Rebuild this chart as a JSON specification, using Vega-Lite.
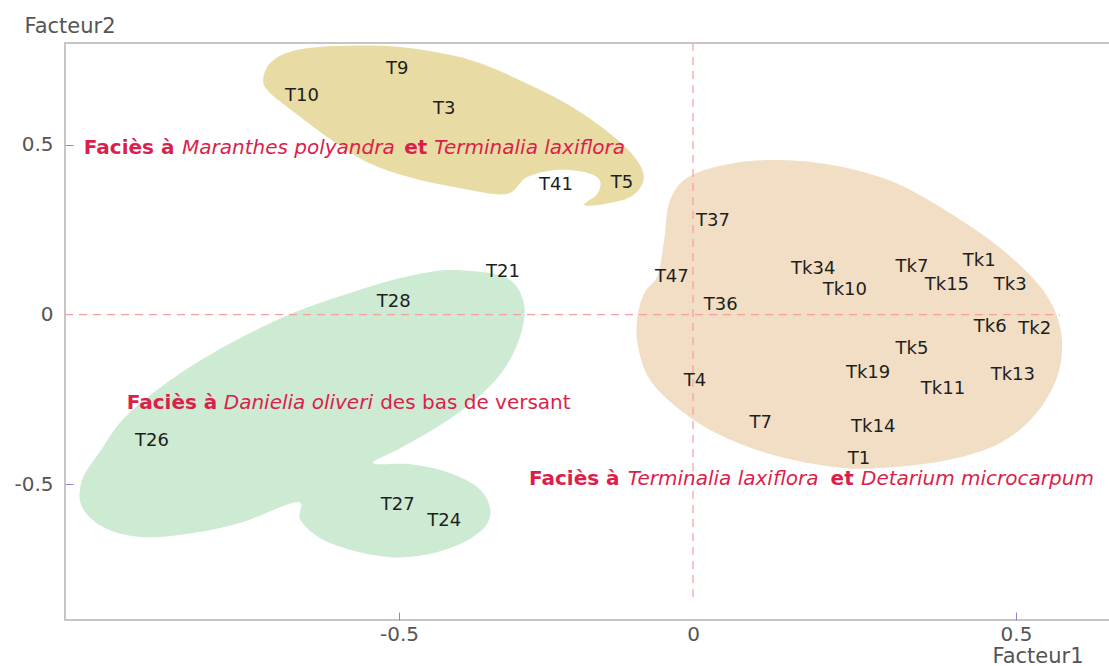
{
  "$schema": "https://vega.github.io/schema/vega-lite/v6.json",
  "width": 1046,
  "height": 577,
  "autosize": "none",
  "padding": {"left": 65, "top": 43, "right": 0, "bottom": 46},
  "background": "white",
  "config": {"view": {"stroke": "#c6c6c6", "strokeWidth": 2}, "font": "DejaVu Sans"},
  "datasets": {
    "points": [
      {"label": "T9", "f1": -0.503, "f2": 0.723},
      {"label": "T10", "f1": -0.665, "f2": 0.644},
      {"label": "T3", "f1": -0.423, "f2": 0.605},
      {"label": "T41", "f1": -0.233, "f2": 0.382},
      {"label": "T5", "f1": -0.121, "f2": 0.388},
      {"label": "T21", "f1": -0.323, "f2": 0.125},
      {"label": "T28", "f1": -0.509, "f2": 0.037},
      {"label": "T26", "f1": -0.920, "f2": -0.373},
      {"label": "T27", "f1": -0.502, "f2": -0.561},
      {"label": "T24", "f1": -0.423, "f2": -0.608},
      {"label": "T37", "f1": 0.031, "f2": 0.275},
      {"label": "T47", "f1": -0.036, "f2": 0.110},
      {"label": "T36", "f1": 0.043, "f2": 0.028},
      {"label": "T4", "f1": 0.003, "f2": -0.196},
      {"label": "T7", "f1": 0.105, "f2": -0.320},
      {"label": "T1", "f1": 0.257, "f2": -0.426},
      {"label": "Tk34", "f1": 0.186, "f2": 0.134},
      {"label": "Tk10", "f1": 0.235, "f2": 0.072},
      {"label": "Tk7", "f1": 0.339, "f2": 0.140},
      {"label": "Tk1", "f1": 0.443, "f2": 0.158},
      {"label": "Tk15", "f1": 0.393, "f2": 0.087},
      {"label": "Tk3", "f1": 0.491, "f2": 0.087},
      {"label": "Tk6", "f1": 0.460, "f2": -0.037},
      {"label": "Tk2", "f1": 0.529, "f2": -0.043},
      {"label": "Tk5", "f1": 0.339, "f2": -0.102},
      {"label": "Tk19", "f1": 0.271, "f2": -0.172},
      {"label": "Tk11", "f1": 0.387, "f2": -0.219},
      {"label": "Tk13", "f1": 0.495, "f2": -0.178},
      {"label": "Tk14", "f1": 0.279, "f2": -0.331}
    ],
    "blobs": [
      {"grp": "A", "i": 1, "f1": -0.731, "f2": 0.691},
      {"grp": "A", "i": 2, "f1": -0.719, "f2": 0.741},
      {"grp": "A", "i": 3, "f1": -0.682, "f2": 0.776},
      {"grp": "A", "i": 4, "f1": -0.609, "f2": 0.791},
      {"grp": "A", "i": 5, "f1": -0.498, "f2": 0.788},
      {"grp": "A", "i": 6, "f1": -0.379, "f2": 0.750},
      {"grp": "A", "i": 7, "f1": -0.277, "f2": 0.676},
      {"grp": "A", "i": 8, "f1": -0.192, "f2": 0.597},
      {"grp": "A", "i": 9, "f1": -0.124, "f2": 0.508},
      {"grp": "A", "i": 10, "f1": -0.090, "f2": 0.440},
      {"grp": "A", "i": 11, "f1": -0.085, "f2": 0.390},
      {"grp": "A", "i": 12, "f1": -0.107, "f2": 0.346},
      {"grp": "A", "i": 13, "f1": -0.150, "f2": 0.326},
      {"grp": "A", "i": 14, "f1": -0.185, "f2": 0.323},
      {"grp": "A", "i": 15, "f1": -0.163, "f2": 0.355},
      {"grp": "A", "i": 16, "f1": -0.158, "f2": 0.393},
      {"grp": "A", "i": 17, "f1": -0.179, "f2": 0.417},
      {"grp": "A", "i": 18, "f1": -0.231, "f2": 0.426},
      {"grp": "A", "i": 19, "f1": -0.282, "f2": 0.405},
      {"grp": "A", "i": 20, "f1": -0.318, "f2": 0.355},
      {"grp": "A", "i": 21, "f1": -0.398, "f2": 0.373},
      {"grp": "A", "i": 22, "f1": -0.477, "f2": 0.402},
      {"grp": "A", "i": 23, "f1": -0.554, "f2": 0.449},
      {"grp": "A", "i": 24, "f1": -0.622, "f2": 0.523},
      {"grp": "A", "i": 25, "f1": -0.682, "f2": 0.601},
      {"grp": "A", "i": 26, "f1": -0.721, "f2": 0.656},
      {"grp": "B", "i": 1, "f1": -0.403, "f2": 0.131},
      {"grp": "B", "i": 2, "f1": -0.320, "f2": 0.110},
      {"grp": "B", "i": 3, "f1": -0.289, "f2": 0.043},
      {"grp": "B", "i": 4, "f1": -0.291, "f2": -0.046},
      {"grp": "B", "i": 5, "f1": -0.320, "f2": -0.158},
      {"grp": "B", "i": 6, "f1": -0.371, "f2": -0.252},
      {"grp": "B", "i": 7, "f1": -0.430, "f2": -0.326},
      {"grp": "B", "i": 8, "f1": -0.498, "f2": -0.394},
      {"grp": "B", "i": 9, "f1": -0.544, "f2": -0.438},
      {"grp": "B", "i": 10, "f1": -0.481, "f2": -0.441},
      {"grp": "B", "i": 11, "f1": -0.422, "f2": -0.462},
      {"grp": "B", "i": 12, "f1": -0.367, "f2": -0.508},
      {"grp": "B", "i": 13, "f1": -0.345, "f2": -0.570},
      {"grp": "B", "i": 14, "f1": -0.354, "f2": -0.626},
      {"grp": "B", "i": 15, "f1": -0.396, "f2": -0.676},
      {"grp": "B", "i": 16, "f1": -0.456, "f2": -0.708},
      {"grp": "B", "i": 17, "f1": -0.515, "f2": -0.715},
      {"grp": "B", "i": 18, "f1": -0.575, "f2": -0.697},
      {"grp": "B", "i": 19, "f1": -0.634, "f2": -0.659},
      {"grp": "B", "i": 20, "f1": -0.668, "f2": -0.605},
      {"grp": "B", "i": 21, "f1": -0.673, "f2": -0.552},
      {"grp": "B", "i": 22, "f1": -0.765, "f2": -0.611},
      {"grp": "B", "i": 23, "f1": -0.850, "f2": -0.644},
      {"grp": "B", "i": 24, "f1": -0.935, "f2": -0.656},
      {"grp": "B", "i": 25, "f1": -1.000, "f2": -0.629},
      {"grp": "B", "i": 26, "f1": -1.039, "f2": -0.567},
      {"grp": "B", "i": 27, "f1": -1.039, "f2": -0.488},
      {"grp": "B", "i": 28, "f1": -1.009, "f2": -0.405},
      {"grp": "B", "i": 29, "f1": -0.957, "f2": -0.287},
      {"grp": "B", "i": 30, "f1": -0.842, "f2": -0.140},
      {"grp": "B", "i": 31, "f1": -0.696, "f2": -0.007},
      {"grp": "B", "i": 32, "f1": -0.550, "f2": 0.082},
      {"grp": "B", "i": 33, "f1": -0.464, "f2": 0.120},
      {"grp": "C", "i": 1, "f1": 0.135, "f2": 0.455},
      {"grp": "C", "i": 2, "f1": 0.217, "f2": 0.440},
      {"grp": "C", "i": 3, "f1": 0.289, "f2": 0.405},
      {"grp": "C", "i": 4, "f1": 0.351, "f2": 0.352},
      {"grp": "C", "i": 5, "f1": 0.449, "f2": 0.234},
      {"grp": "C", "i": 6, "f1": 0.517, "f2": 0.125},
      {"grp": "C", "i": 7, "f1": 0.556, "f2": 0.028},
      {"grp": "C", "i": 8, "f1": 0.571, "f2": -0.075},
      {"grp": "C", "i": 9, "f1": 0.563, "f2": -0.187},
      {"grp": "C", "i": 10, "f1": 0.529, "f2": -0.296},
      {"grp": "C", "i": 11, "f1": 0.475, "f2": -0.379},
      {"grp": "C", "i": 12, "f1": 0.393, "f2": -0.429},
      {"grp": "C", "i": 13, "f1": 0.289, "f2": -0.452},
      {"grp": "C", "i": 14, "f1": 0.217, "f2": -0.449},
      {"grp": "C", "i": 15, "f1": 0.124, "f2": -0.414},
      {"grp": "C", "i": 16, "f1": 0.042, "f2": -0.355},
      {"grp": "C", "i": 17, "f1": -0.022, "f2": -0.281},
      {"grp": "C", "i": 18, "f1": -0.073, "f2": -0.193},
      {"grp": "C", "i": 19, "f1": -0.094, "f2": -0.090},
      {"grp": "C", "i": 20, "f1": -0.094, "f2": -0.001},
      {"grp": "C", "i": 21, "f1": -0.082, "f2": 0.066},
      {"grp": "C", "i": 22, "f1": -0.060, "f2": 0.116},
      {"grp": "C", "i": 23, "f1": -0.049, "f2": 0.220},
      {"grp": "C", "i": 24, "f1": -0.039, "f2": 0.337},
      {"grp": "C", "i": 25, "f1": -0.005, "f2": 0.408},
      {"grp": "C", "i": 26, "f1": 0.062, "f2": 0.446}
    ],
    "notes": [
      {"grp": "A", "kind": "lead", "txt": "Faciès à", "f1": -1.036, "f2": 0.473},
      {"grp": "A", "kind": "species", "txt": "Maranthes polyandra", "f1": -0.869, "f2": 0.473},
      {"grp": "A", "kind": "lead", "txt": "et", "f1": -0.491, "f2": 0.473},
      {"grp": "A", "kind": "species", "txt": "Terminalia laxiflora", "f1": -0.440, "f2": 0.473},
      {"grp": "B", "kind": "lead", "txt": "Faciès à", "f1": -0.963, "f2": -0.278},
      {"grp": "B", "kind": "species", "txt": "Danielia oliveri", "f1": -0.798, "f2": -0.278},
      {"grp": "B", "kind": "plain", "txt": "des bas de versant", "f1": -0.532, "f2": -0.278},
      {"grp": "C", "kind": "lead", "txt": "Faciès à", "f1": -0.279, "f2": -0.502},
      {"grp": "C", "kind": "species", "txt": "Terminalia laxiflora", "f1": -0.111, "f2": -0.502},
      {"grp": "C", "kind": "lead", "txt": "et", "f1": 0.213, "f2": -0.502},
      {"grp": "C", "kind": "species", "txt": "Detarium microcarpum", "f1": 0.260, "f2": -0.502}
    ],
    "origin": [
      {"f1": -1.068, "f1end": 0.568, "f2": 0, "f2end": 0},
      {"f1": 0, "f1end": 0, "f2": 0.8, "f2end": -0.832}
    ]
  },
  "encoding": {
    "x": {
      "field": "f1", "type": "quantitative",
      "scale": {"domain": [-1.068, 0, 0.647], "range": [0, 628, 1046], "nice": false, "zero": false},
      "axis": {
        "title": "Facteur1", "values": [-0.5, 0, 0.5], "format": "~g",
        "labelExpr": "replace(datum.label, '\u2212', '-')",
        "domain": false, "grid": false,
        "tickColor": "#8a8ad6", "tickSize": -8,
        "tickOpacity": {"condition": {"test": "datum.value == 0", "value": 0}, "value": 1},
        "labelFont": "DejaVu Sans", "labelFontSize": 20, "labelColor": "#555555", "labelPadding": 12,
        "labelFlush": false, "labelOverlap": false,
        "titleFont": "DejaVu Sans", "titleFontSize": 21, "titleFontWeight": "normal", "titleColor": "#555555",
        "titleAlign": "left", "titleBaseline": "alphabetic", "titleX": 927, "titleY": 42
      }
    },
    "y": {
      "field": "f2", "type": "quantitative",
      "scale": {"domain": [-0.9, 0.8], "nice": false, "zero": false},
      "axis": {
        "title": "Facteur2", "values": [-0.5, 0, 0.5], "format": "~g",
        "labelExpr": "replace(datum.label, '\u2212', '-')",
        "domain": false, "grid": false,
        "tickColor": "#8a8ad6", "tickSize": -8,
        "tickOpacity": {"condition": {"test": "datum.value == 0", "value": 0}, "value": 1},
        "labelFont": "DejaVu Sans", "labelFontSize": 20, "labelColor": "#555555", "labelPadding": 20,
        "labelFlush": false, "labelOverlap": false,
        "titleFont": "DejaVu Sans", "titleFontSize": 21, "titleFontWeight": "normal", "titleColor": "#555555",
        "titleAngle": 0, "titleAlign": "left", "titleBaseline": "alphabetic", "titleX": -41, "titleY": -11
      }
    }
  },
  "layer": [
    {
      "data": {"name": "blobs"},
      "transform": [{"filter": "datum.grp == 'A'"}],
      "mark": {"type": "line", "interpolate": "cardinal-closed", "fill": "#e8dba4", "stroke": null, "strokeWidth": 0},
      "encoding": {"order": {"field": "i", "type": "quantitative"}}
    },
    {
      "data": {"name": "blobs"},
      "transform": [{"filter": "datum.grp == 'B'"}],
      "mark": {"type": "line", "interpolate": "cardinal-closed", "fill": "#cdebd3", "stroke": null, "strokeWidth": 0},
      "encoding": {"order": {"field": "i", "type": "quantitative"}}
    },
    {
      "data": {"name": "blobs"},
      "transform": [{"filter": "datum.grp == 'C'"}],
      "mark": {"type": "line", "interpolate": "cardinal-closed", "fill": "#f1dec5", "stroke": null, "strokeWidth": 0},
      "encoding": {"order": {"field": "i", "type": "quantitative"}}
    },
    {
      "data": {"name": "origin"},
      "mark": {"type": "rule", "stroke": "#f4a0a0", "strokeDash": [8, 6], "strokeWidth": 1.2},
      "encoding": {
        "x2": {"field": "f1end"},
        "y2": {"field": "f2end"}
      }
    },
    {
      "data": {"name": "points"},
      "mark": {"type": "text", "font": "DejaVu Sans", "fontSize": 18, "color": "#1e1e1e", "align": "center", "baseline": "middle"},
      "encoding": {"text": {"field": "label"}}
    },
    {
      "data": {"name": "notes"},
      "transform": [{"filter": "datum.kind == 'lead'"}],
      "mark": {"type": "text", "font": "DejaVu Sans", "fontSize": 20, "fontWeight": "bold", "color": "#db1f4b", "align": "left", "baseline": "alphabetic"},
      "encoding": {"text": {"field": "txt"}}
    },
    {
      "data": {"name": "notes"},
      "transform": [{"filter": "datum.kind == 'species'"}],
      "mark": {"type": "text", "font": "DejaVu Sans", "fontSize": 20, "fontStyle": "italic", "color": "#db1f4b", "align": "left", "baseline": "alphabetic"},
      "encoding": {"text": {"field": "txt"}}
    },
    {
      "data": {"name": "notes"},
      "transform": [{"filter": "datum.kind == 'plain'"}],
      "mark": {"type": "text", "font": "DejaVu Sans", "fontSize": 20, "color": "#db1f4b", "align": "left", "baseline": "alphabetic"},
      "encoding": {"text": {"field": "txt"}}
    }
  ]
}
